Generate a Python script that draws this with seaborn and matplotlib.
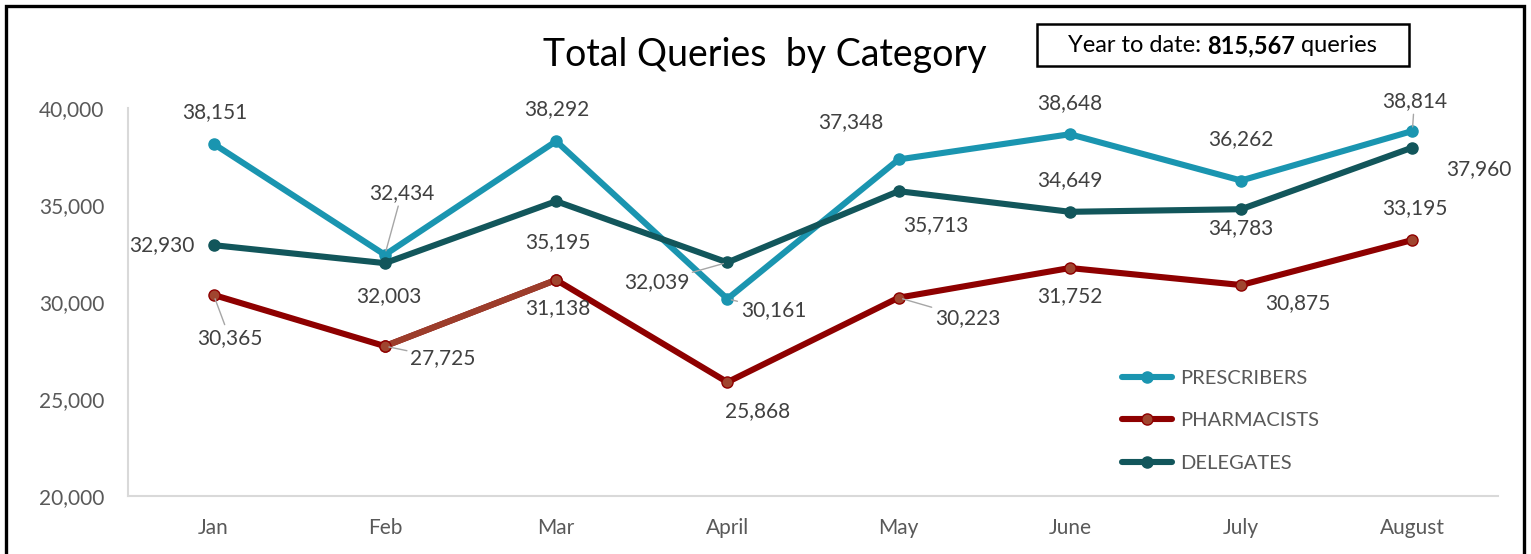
"""Total queries by category -> out.png"""
import matplotlib
matplotlib.use("Agg")
import matplotlib.pyplot as plt
from matplotlib.lines import Line2D
from matplotlib.patches import Rectangle
import pandas as pd
import seaborn as sns

months = ["Jan", "Feb", "Mar", "April", "May", "June", "July", "August"]
prescribers = [38151, 32434, 38292, 30161, 37348, 38648, 36262, 38814]
pharmacists = [30365, 27725, 31138, 25868, 30223, 31752, 30875, 33195]
delegates = [32930, 32003, 35195, 32039, 35713, 34649, 34783, 37960]
series_names = ["PRESCRIBERS", "PHARMACISTS", "DELEGATES"]
ytd_total = 815567

sns.set_theme(style="white")
plt.rcParams["font.family"] = ["Lato", "DejaVu Sans"]

colors = {"PRESCRIBERS": "#1a95b0", "PHARMACISTS": "#8e0000", "DELEGATES": "#12565b"}
marker_face = {"PRESCRIBERS": "#1a95b0", "PHARMACISTS": "#a0452f", "DELEGATES": "#12565b"}

df = pd.DataFrame({
    "month": months * 3,
    "value": prescribers + pharmacists + delegates,
    "category": [n for n in series_names for _ in months],
})

W, H = 1531, 554
fig = plt.figure(figsize=(W / 100, H / 100), dpi=100)
ax = fig.add_axes([128 / W, 1 - 496 / H, (1498 - 128) / W, (496 - 108) / H])

for name in series_names:
    sub = df[df["category"] == name]
    sns.lineplot(data=sub, x="month", y="value", ax=ax, color=colors[name],
                 lw=4.4, marker="o", markersize=8, markerfacecolor=marker_face[name],
                 markeredgecolor=colors[name], markeredgewidth=1, sort=False,
                 legend=False)
    if name == "PHARMACISTS":
        # Feb -> Mar segment is drawn in a lighter brown in the source
        seg = sub.iloc[1:3]
        ax.plot(seg["month"], seg["value"], color="#9c3d2b", lw=4.4, zorder=2.1)
        ax.plot(seg["month"], seg["value"], ls="none", marker="o", markersize=8,
                markerfacecolor=marker_face[name], markeredgecolor=colors[name],
                markeredgewidth=1, zorder=2.2)

ax.set_xlim(-0.5, len(months) - 0.5)
ax.set_ylim(20000, 40000)
ax.set_yticks([20000, 25000, 30000, 35000, 40000])
ax.set_yticklabels([f"{v:,}" for v in ax.get_yticks()])
ax.set_xlabel("")
ax.set_ylabel("")
ax.tick_params(axis="both", length=0, labelsize=15, labelcolor="#595959")
ax.tick_params(axis="y", pad=17)
ax.tick_params(axis="x", pad=16)
for s in ["top", "right"]:
    ax.spines[s].set_visible(False)
for s in ["left", "bottom"]:
    ax.spines[s].set_color("#d9d9d9")
    ax.spines[s].set_linewidth(1.5)

# data labels: pixel offsets from the point (dx, dy), and whether a leader line is drawn
offsets = {
    "PRESCRIBERS": [(1, 32), (17, 62), (1, 32), (46, -11), (-48, 37), (0, 31), (0, 41), (2, 30)],
    "PHARMACISTS": [(16, -43), (58, -12), (2, -28), (30, -29), (69, -20), (0, -28), (57, -18), (2, 32)],
    "DELEGATES": [(-52, 0), (4, -33), (2, -41), (-71, -20), (37, -34), (0, 32), (0, -19), (66, -22)],
}
leaders = {
    "PRESCRIBERS": [0, 1, 0, 1, 0, 0, 0, 1],
    "PHARMACISTS": [1, 1, 0, 0, 1, 0, 0, 0],
    "DELEGATES": [0, 0, 0, 1, 0, 0, 0, 0],
}
values = {"PRESCRIBERS": prescribers, "PHARMACISTS": pharmacists, "DELEGATES": delegates}
for name in series_names:
    for i, (m, v) in enumerate(zip(months, values[name])):
        dx, dy = offsets[name][i]
        arrow = dict(arrowstyle="-", color="#a6a6a6", lw=1, shrinkA=0, shrinkB=3) if leaders[name][i] else None
        ax.annotate(f"{v:,}", xy=(i, v), xytext=(dx, dy), textcoords="offset pixels",
                    ha="center", va="center", fontsize=15, color="#404040",
                    arrowprops=arrow, zorder=5)

# legend
handles = [Line2D([0], [0], color=colors[n], lw=4.4, marker="o", markersize=8,
                  markerfacecolor=marker_face[n], markeredgecolor=colors[n]) for n in series_names]
leg = fig.legend(handles, series_names, loc="upper left",
                 bbox_to_anchor=(1104 / W, 1 - 352 / H), frameon=False,
                 fontsize=14.5, handlelength=2.5, handletextpad=0.4, labelspacing=1.25)
for t in leg.get_texts():
    t.set_color("#595959")

# title
fig.text(765 / W, 1 - 55 / H, "Total Queries  by Category", ha="center", va="center",
         fontsize=27, color="black")

# year-to-date box with mixed bold text
fig.add_artist(Rectangle((1037 / W, 1 - 66 / H), (1409 - 1037) / W, (66 - 24) / H,
                         transform=fig.transFigure, fill=False, ec="black", lw=1.8))
parts = [("Year to date: ", "normal"), (f"{ytd_total:,}", "bold"), (" queries", "normal")]
texts = [fig.text(0, 1 - 46 / H, s, fontsize=17, fontweight=w, color="black", va="center")
         for s, w in parts]
fig.canvas.draw()
r = fig.canvas.get_renderer()
widths = [t.get_window_extent(r).width for t in texts]
x = 1222 - sum(widths) / 2
for t, wdt in zip(texts, widths):
    t.set_x(x / W)
    x += wdt

# outer frame (bottom edge runs off the image)
fig.add_artist(Rectangle((6 / W, -0.05), (1524 - 6) / W, 1.05 - 6 / H,
                         transform=fig.transFigure, fill=False, ec="black", lw=2.4))

fig.savefig("out.png", dpi=100)
